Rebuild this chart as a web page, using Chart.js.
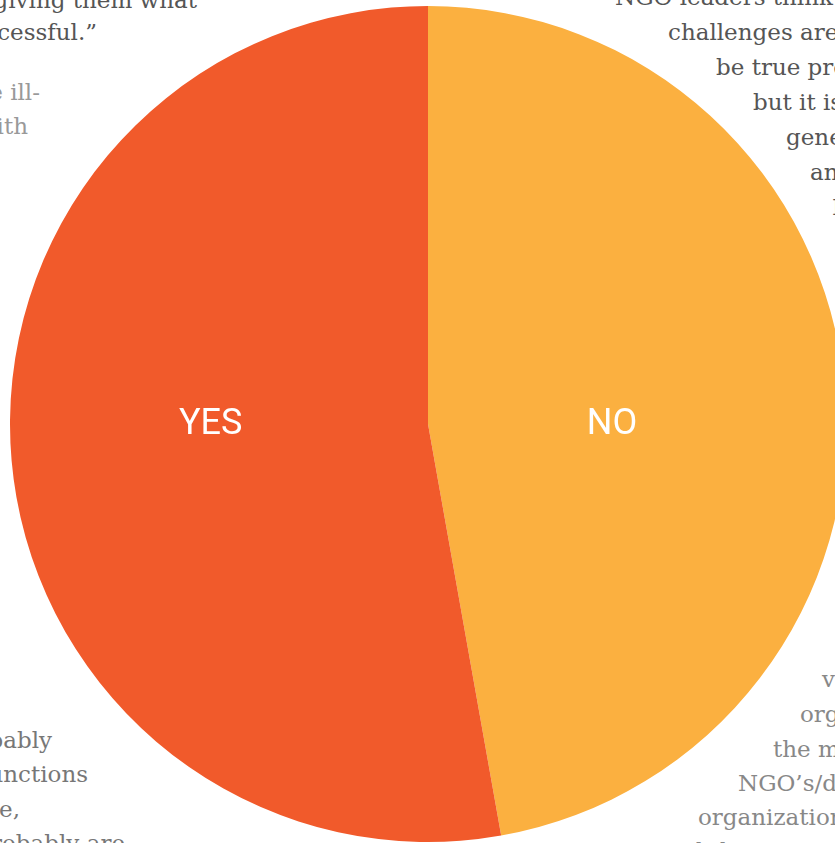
<!DOCTYPE html>
<html>
<head>
<meta charset="utf-8">
<script src="https://cdn.jsdelivr.net/npm/chart.js@4"></script>
<style>
  html, body {
    margin: 0;
    padding: 0;
    width: 835px;
    height: 843px;
    overflow: hidden;
    background: #fff;
  }
  .line {
    position: absolute;
    font-family: "DejaVu Serif", serif;
    font-size: 23px;
    line-height: 23px;
    white-space: nowrap;
  }
  .left {
    width: 500px;
    text-align: right;
  }
  #pie-box {
    position: absolute;
    left: 10px;
    top: 6px;
    width: 836px;
    height: 836px;
  }
</style>
</head>
<body>
<div id="copy"></div>
<div id="pie-box"><canvas id="pie-chart" width="836" height="836"></canvas></div>
<script>
let answers = ["NO", "YES"];
let shares = [47.2, 52.8];
let sliceColors = ["#FBB040", "#F15A2B"];

// article text wrapped around the chart: [text, anchor x, baseline y, colour, side]
let copyLines = [
  ["successful, giving them what", 197, 8, "#555", "left"],
  ["to be successful.\u201d", 97, 40, "#555", "left"],
  ["addressing the ill-", 40, 100, "#999", "left"],
  ["along with", 28, 134, "#999", "left"],
  ["the work probably", 52, 748, "#777", "left"],
  ["administrative functions", 88, 782, "#777", "left"],
  ["for example, for instance,", 20, 817, "#777", "left"],
  ["who are probably are", 125, 851, "#777", "left"],
  ["NGO leaders think that", 615, 5, "#555", "right"],
  ["challenges are the", 668, 40, "#555", "right"],
  ["be true problems", 716, 75, "#555", "right"],
  ["but it is the", 753, 110, "#555", "right"],
  ["generally", 786, 145, "#555", "right"],
  ["and the", 810, 180, "#555", "right"],
  ["In", 832, 215, "#555", "right"],
  ["vast", 822, 687, "#888", "right"],
  ["organizations", 800, 722, "#888", "right"],
  ["the most", 773, 757, "#888", "right"],
  ["NGO\u2019s/donors", 738, 791, "#888", "right"],
  ["organizations", 698, 825, "#888", "right"],
  ["and the", 660, 859, "#888", "right"],
];

let copy = document.getElementById("copy");
copyLines.forEach((l) => {
  let d = document.createElement("div");
  d.className = "line" + (l[4] == "left" ? " left" : "");
  d.textContent = l[0];
  d.style.color = l[3];
  d.style.top = (l[2] - 19) + "px";
  if (l[4] == "left") {
    d.style.left = (l[1] - 500) + "px";
  } else {
    d.style.left = l[1] + "px";
  }
  copy.appendChild(d);
});

// slice names drawn inside the pie, level with its centre
const sliceLabels = {
  id: "sliceLabels",
  afterDatasetsDraw(chart) {
    const ctx = chart.ctx;
    const offsets = [0.44, 0.52];
    chart.getDatasetMeta(0).data.forEach((arc, i) => {
      const mid = (arc.startAngle + arc.endAngle) / 2;
      const dir = Math.cos(mid) >= 0 ? 1 : -1;
      const x = arc.x + dir * arc.outerRadius * offsets[i];
      ctx.save();
      ctx.fillStyle = "#fff";
      ctx.font = "36px Roboto";
      ctx.textAlign = "center";
      ctx.textBaseline = "alphabetic";
      ctx.fillText(chart.data.labels[i], x, arc.y + 10);
      ctx.restore();
    });
  },
};

new Chart(document.getElementById("pie-chart"), {
  type: "pie",
  data: {
    labels: answers,
    datasets: [
      {
        data: shares,
        backgroundColor: sliceColors,
        borderWidth: 0,
      },
    ],
  },
  options: {
    responsive: false,
    animation: false,
    layout: { padding: 0 },
    plugins: {
      legend: { display: false },
      tooltip: { enabled: false },
    },
  },
  plugins: [sliceLabels],
});
</script>
</body>
</html>
